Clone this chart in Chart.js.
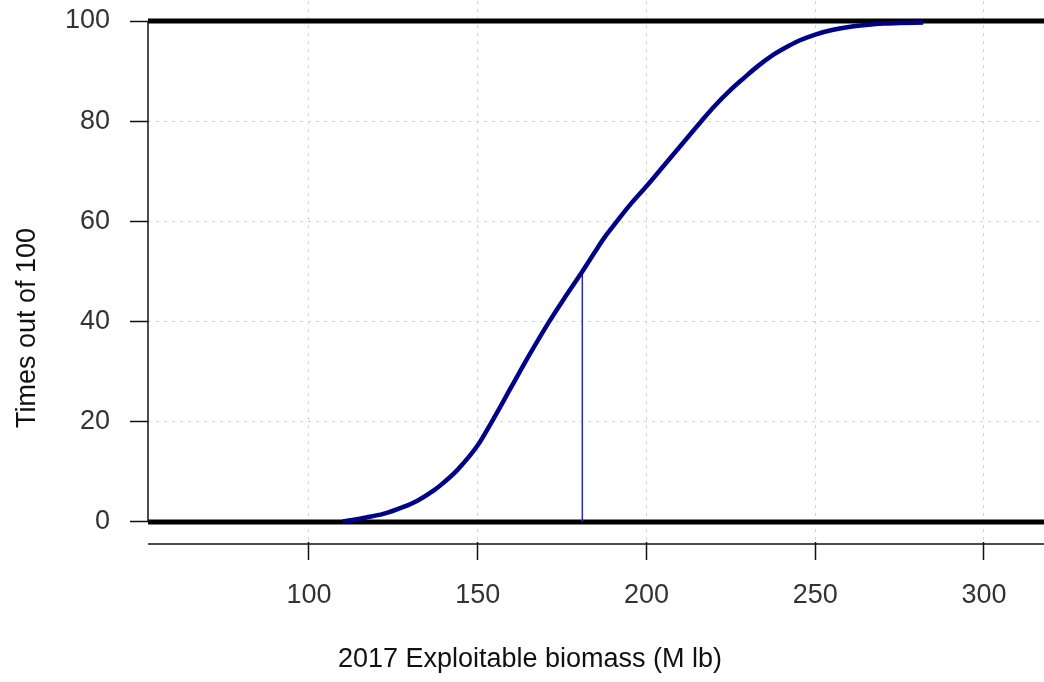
<!DOCTYPE html>
<html>
<head>
<meta charset="utf-8">
<title>2017 Exploitable biomass</title>
<script src="https://cdn.jsdelivr.net/npm/chart.js@4.4.0/dist/chart.umd.min.js"></script>
<style>
  html, body { margin: 0; padding: 0; background: #fff; }
  #wrap { width: 1044px; height: 682px; position: relative; }
</style>
</head>
<body>
<div id="wrap"><canvas id="cdfChart"></canvas></div>
<script>
// cumulative curve: biomass (M lb) vs times out of 100
const biomass = [110, 117, 122, 128, 132, 137, 140, 144, 150, 154, 160, 165, 171, 176, 181, 185, 188, 191, 195, 200, 205, 210, 216, 220, 225, 229, 233, 237, 241, 245, 250, 255, 260, 265, 270, 275, 282];
const timesOutOf100 = [0.1, 0.9, 1.6, 3.0, 4.2, 6.3, 7.9, 10.4, 15.3, 19.8, 27.0, 33.0, 39.8, 45.0, 50.0, 54.2, 57.2, 59.8, 63.2, 67.0, 71.0, 75.0, 79.8, 82.9, 86.3, 88.7, 91.0, 93.0, 94.6, 96.0, 97.3, 98.2, 98.8, 99.2, 99.5, 99.6, 99.7];

// median marker
const medianBiomass = 181;
const medianLevel = 50;

// horizontal reference lines
const refLevels = [0, 100];

const xTicks = [100, 150, 200, 250, 300];
const yTicks = [0, 20, 40, 60, 80, 100];
const xRange = [52.3, 317.8];
const yRange = [-4, 104];

const FONT = '"Liberation Sans", Arial, sans-serif';

// R-style extras: abline at 0/100, axis lines and axis titles
const rStyle = {
    id: "rStyle",
    beforeDatasetsDraw(chart) {
        const { ctx, chartArea: a, scales: { y } } = chart;
        ctx.save();
        ctx.strokeStyle = "#000";
        ctx.lineWidth = 5;
        refLevels.forEach(v => {
            const py = y.getPixelForValue(v);
            ctx.beginPath();
            ctx.moveTo(a.left, py);
            ctx.lineTo(a.right, py);
            ctx.stroke();
        });
        ctx.restore();
    },
    afterDraw(chart) {
        const { ctx, chartArea: a, scales: { y } } = chart;
        ctx.save();
        ctx.strokeStyle = "#111";
        ctx.lineWidth = 1.5;
        // y axis line
        ctx.beginPath();
        ctx.moveTo(a.left, y.getPixelForValue(yTicks[yTicks.length - 1]));
        ctx.lineTo(a.left, y.getPixelForValue(yTicks[0]));
        ctx.stroke();
        // x axis line, a bit below the plot
        ctx.beginPath();
        ctx.moveTo(a.left, a.bottom + 2);
        ctx.lineTo(a.right, a.bottom + 2);
        ctx.stroke();

        ctx.fillStyle = "#111";
        ctx.font = "27px " + FONT;
        ctx.textAlign = "center";
        ctx.textBaseline = "middle";
        ctx.fillText("2017 Exploitable biomass (M lb)", 530, 660);
        ctx.translate(28, 328);
        ctx.rotate(-Math.PI / 2);
        ctx.fillText("Times out of 100", 0, 0);
        ctx.restore();
    }
};

function renderChart() {
    const canvas = document.getElementById("cdfChart");

    new Chart(canvas, {
        type: "scatter",
        data: {
            datasets: [
                {
                    data: biomass.map((b, i) => ({ x: b, y: timesOutOf100[i] })),
                    showLine: true,
                    borderColor: "#00008b",
                    borderWidth: 4.5,
                    pointRadius: 0,
                    cubicInterpolationMode: "monotone"
                },
                {
                    data: [{ x: medianBiomass, y: 0 }, { x: medianBiomass, y: medianLevel }],
                    showLine: true,
                    borderColor: "#2b2ba8",
                    borderWidth: 1.5,
                    pointRadius: 0
                }
            ]
        },
        options: {
            responsive: true,
            maintainAspectRatio: false,
            animation: false,
            layout: { padding: { top: 1, right: 0, left: 0, bottom: 0 } },
            plugins: {
                legend: { display: false },
                tooltip: { enabled: false }
            },
            scales: {
                x: {
                    type: "linear",
                    min: xRange[0],
                    max: xRange[1],
                    afterBuildTicks: s => { s.ticks = xTicks.map(v => ({ value: v })); },
                    afterFit: s => { s.height = 140; s.paddingLeft = 0; s.paddingRight = 0; },
                    grid: { color: "#d3d3d3", lineWidth: 1, tickLength: 18, tickColor: "#111", tickWidth: 1.5 },
                    border: { display: false, dash: [3, 5] },
                    ticks: { color: "#333", font: { family: FONT, size: 27 }, padding: 19, maxRotation: 0 }
                },
                y: {
                    type: "linear",
                    min: yRange[0],
                    max: yRange[1],
                    afterBuildTicks: s => { s.ticks = yTicks.map(v => ({ value: v })); },
                    afterFit: s => { s.width = 148; s.paddingTop = 0; s.paddingBottom = 0; },
                    grid: { color: "#d3d3d3", lineWidth: 1, tickLength: 18, tickColor: "#111", tickWidth: 1.5 },
                    border: { display: false, dash: [3, 5] },
                    ticks: { color: "#333", font: { family: FONT, size: 27 }, padding: 20 }
                }
            }
        },
        plugins: [rStyle]
    });
}

document.addEventListener("DOMContentLoaded", renderChart);
</script>
</body>
</html>
